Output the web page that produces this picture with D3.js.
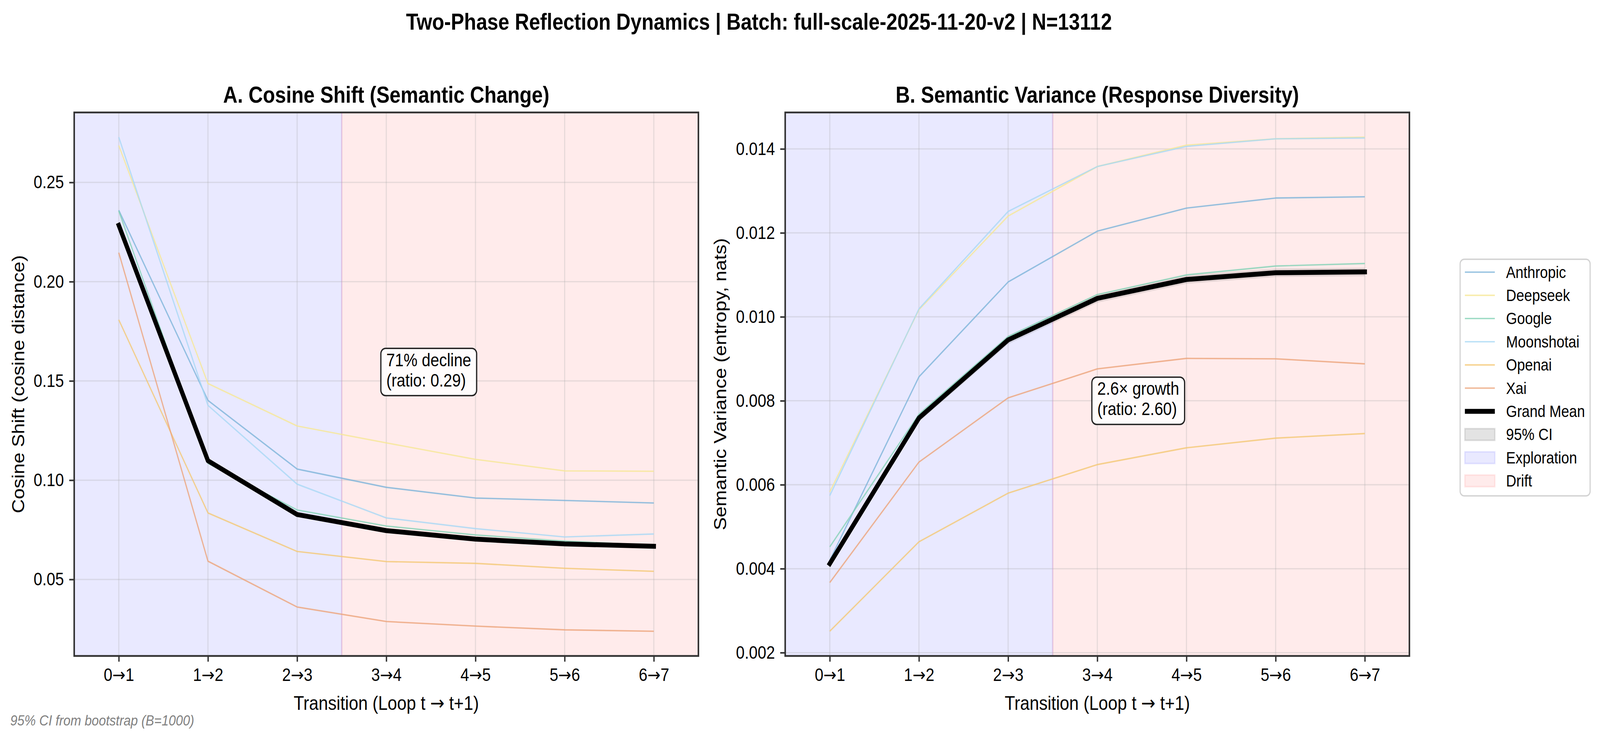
<!DOCTYPE html>
<html>
<head>
<meta charset="utf-8">
<script src="https://cdn.jsdelivr.net/npm/d3@7"></script>
<style>
  html, body { margin: 0; padding: 0; width: 100%; height: 100%; overflow: hidden; background: #fff; }
  #chart { width: 100vw; height: 100vh; }
  svg { display: block; }
  text { font-family: "Liberation Sans", Arial, Helvetica, sans-serif; }
</style>
</head>
<body>
<div id="chart"></div>
<script>
// ---- data ----
const transitions = ["0→1", "1→2", "2→3", "3→4", "4→5", "5→6", "6→7"];
const providers = ["Anthropic", "Deepseek", "Google", "Moonshotai", "Openai", "Xai"];
const providerColors = ["#7db4da", "#f6e796", "#84d2b6", "#a9d8f5", "#f4c874", "#eca47a"];

// A. cosine shift
const cosAnthropic  = [0.2360, 0.1402, 0.1056, 0.0964, 0.0910, 0.0898, 0.0885];
const cosDeepseek   = [0.2686, 0.1487, 0.1273, 0.1188, 0.1105, 0.1047, 0.1045];
const cosGoogle     = [0.2356, 0.1085, 0.0850, 0.0769, 0.0724, 0.0693, 0.0672];
const cosMoonshotai = [0.2728, 0.1377, 0.0980, 0.0810, 0.0756, 0.0714, 0.0729];
const cosOpenai     = [0.1808, 0.0835, 0.0641, 0.0590, 0.0581, 0.0556, 0.0541];
const cosXai        = [0.2146, 0.0592, 0.0361, 0.0288, 0.0265, 0.0246, 0.0239];
const cosMean       = [0.2284, 0.1098, 0.0827, 0.0746, 0.0703, 0.0679, 0.0667];
const cosCiLo       = [0.2268, 0.1089, 0.0820, 0.0740, 0.0697, 0.0673, 0.0661];
const cosCiHi       = [0.2300, 0.1107, 0.0834, 0.0752, 0.0709, 0.0685, 0.0673];
const cosTicks      = [0.05, 0.10, 0.15, 0.20, 0.25];

// B. semantic variance
const varAnthropic  = [0.00420, 0.00857, 0.01083, 0.01204, 0.01259, 0.01283, 0.01286];
const varDeepseek   = [0.00583, 0.01017, 0.01240, 0.01358, 0.01409, 0.01424, 0.01428];
const varGoogle     = [0.00452, 0.00768, 0.00953, 0.01053, 0.01100, 0.01121, 0.01127];
const varMoonshotai = [0.00574, 0.01019, 0.01251, 0.01358, 0.01406, 0.01424, 0.01426];
const varOpenai     = [0.00251, 0.00464, 0.00580, 0.00648, 0.00688, 0.00711, 0.00722];
const varXai        = [0.00367, 0.00654, 0.00807, 0.00876, 0.00901, 0.00900, 0.00888];
const varMean       = [0.00412, 0.00759, 0.00945, 0.01044, 0.01089, 0.01105, 0.01107];
const varCiLo       = [0.00404, 0.00750, 0.00935, 0.01034, 0.01079, 0.01095, 0.01097];
const varCiHi       = [0.00420, 0.00768, 0.00955, 0.01054, 0.01099, 0.01115, 0.01117];
const varTicks      = [0.002, 0.004, 0.006, 0.008, 0.010, 0.012, 0.014];

const explorationRange = [-0.5, 2.5];
const driftRange = [2.5, 6.5];
const legendLabels = providers.concat(["Grand Mean", "95% CI", "Exploration", "Drift"]);

const W = 4701, H = 1885;
const FONT_TICK = 45.8, FONT_LABEL = 50, FONT_TITLE = 58.3;
const ARROW_FONT = '"DejaVu Sans", sans-serif';

// fit the drawing to whatever viewport the page gets
const svg = d3.select("#chart").append("svg")
  .attr("width", "100%").attr("height", "100%")
  .attr("viewBox", `0 0 ${W} ${H}`)
  .attr("preserveAspectRatio", "none");

// write a label, drawing the arrow glyph in DejaVu like matplotlib's fallback
function arrowText(sel, str) {
  sel.text(null);
  str.split("→").forEach((part, i) => {
    if (i > 0) sel.append("tspan").style("font-family", ARROW_FONT).text("→");
    if (part) sel.append("tspan").text(part);
  });
}

svg.append("text")
  .attr("x", 2230).attr("y", 76)
  .attr("text-anchor", "middle")
  .style("font-size", FONT_TITLE + "px").style("font-weight", "bold")
  .text("Two-Phase Reflection Dynamics | Batch: full-scale-2025-11-20-v2 | N=13112");

function drawPanel(p) {
  const width = 1834, height = 1392;
  const g = svg.append("g").attr("transform", `translate(${p.left},${p.top})`);

  const x = d3.scaleLinear().domain([-0.5, 6.5]).range([0, width]);
  const all = p.series.flat().concat(p.mean, p.ciLo, p.ciHi);
  const ext = d3.extent(all);
  const padY = (ext[1] - ext[0]) * 0.05;
  const y = d3.scaleLinear().domain([ext[0] - padY, ext[1] + padY]).range([height, 0]);

  // phase spans
  g.append("rect")
    .attr("x", x(explorationRange[0])).attr("width", x(explorationRange[1]) - x(explorationRange[0]))
    .attr("y", 0).attr("height", height)
    .attr("fill", "blue").attr("fill-opacity", 0.085)
    .attr("stroke", "blue").attr("stroke-opacity", 0.085).attr("stroke-width", 4);
  g.append("rect")
    .attr("x", x(driftRange[0])).attr("width", x(driftRange[1]) - x(driftRange[0]))
    .attr("y", 0).attr("height", height)
    .attr("fill", "red").attr("fill-opacity", 0.08)
    .attr("stroke", "red").attr("stroke-opacity", 0.08).attr("stroke-width", 4);

  // grid
  const grid = g.append("g").attr("class", "grid");
  grid.selectAll("line.gy").data(p.ticks).join("line")
    .attr("x1", 0).attr("x2", width)
    .attr("y1", d => y(d)).attr("y2", d => y(d));
  grid.selectAll("line.gx").data(d3.range(transitions.length)).join("line")
    .attr("y1", 0).attr("y2", height)
    .attr("x1", d => x(d)).attr("x2", d => x(d));
  grid.selectAll("line")
    .attr("stroke", "#b0b0b0").attr("stroke-opacity", 0.3).attr("stroke-width", 3.3);

  // CI band
  g.append("path")
    .datum(d3.range(transitions.length))
    .attr("fill", "#808080").attr("fill-opacity", 0.22)
    .attr("d", d3.area().x(i => x(i)).y0(i => y(p.ciLo[i])).y1(i => y(p.ciHi[i])));

  const line = d3.line().x((d, i) => x(i)).y(d => y(d));

  g.append("g").selectAll("path")
    .data(p.series)
    .join("path")
      .attr("fill", "none")
      .attr("stroke", (d, i) => providerColors[i])
      .attr("stroke-opacity", 0.8)
      .attr("stroke-width", 3.6)
      .attr("stroke-linejoin", "round")
      .attr("d", line);

  g.append("path")
    .datum(p.mean)
    .attr("fill", "none")
    .attr("stroke", "#000")
    .attr("stroke-width", 12.5)
    .attr("stroke-linejoin", "round")
    .attr("stroke-linecap", "square")
    .attr("d", line);

  // axes
  const xAxis = g.append("g")
    .attr("transform", `translate(0,${height})`)
    .call(d3.axisBottom(x).tickValues(d3.range(transitions.length))
      .tickFormat(i => transitions[i]).tickSize(14.6).tickPadding(16.5).tickSizeOuter(0));
  const yAxis = g.append("g")
    .call(d3.axisLeft(y).tickValues(p.ticks).tickFormat(d3.format(p.fmt))
      .tickSize(14.6).tickPadding(15.5).tickSizeOuter(0));
  [xAxis, yAxis].forEach(a => {
    a.select(".domain").remove();
    a.selectAll(".tick line").attr("stroke", "#333").attr("stroke-width", 4);
    a.selectAll(".tick text").attr("fill", "#000")
      .style("font-size", FONT_TICK + "px")
      .style("font-family", '"Liberation Sans", Arial, sans-serif');
  });
  xAxis.selectAll(".tick text").each(function(i) { arrowText(d3.select(this), transitions[i]); });

  // spines
  g.append("rect")
    .attr("width", width).attr("height", height)
    .attr("fill", "none").attr("stroke", "#333").attr("stroke-width", 4.6);

  // titles / labels
  g.append("text")
    .attr("x", width / 2).attr("y", -25)
    .attr("text-anchor", "middle")
    .style("font-size", FONT_TITLE + "px").style("font-weight", "bold")
    .text(p.title);
  g.append("text")
    .attr("x", width / 2).attr("y", 1818 - p.top)
    .attr("text-anchor", "middle")
    .style("font-size", FONT_LABEL + "px")
    .call(arrowText, "Transition (Loop t → t+1)");
  g.append("text")
    .attr("transform", `translate(${p.ylabelX - p.left},${height / 2}) rotate(-90)`)
    .attr("text-anchor", "middle")
    .style("font-size", FONT_LABEL + "px")
    .text(p.ylabel);

  // annotation box
  const cy = y(p.noteY);
  const tx = width * 0.5;
  const note = g.append("g");
  const box = note.append("rect");
  const txt = note.append("text").style("font-size", FONT_TICK + "px");
  txt.append("tspan").attr("x", tx).attr("y", cy - 15).text(p.note[0]);
  txt.append("tspan").attr("x", tx).attr("y", cy + 37).text(p.note[1]);
  const bb = txt.node().getBBox();
  box.attr("x", tx - 16).attr("width", bb.width + 32)
    .attr("y", cy - 60.5).attr("height", 121)
    .attr("rx", 14).attr("ry", 14)
    .attr("fill", "#fff").attr("fill-opacity", 0.85)
    .attr("stroke", "#222").attr("stroke-width", 3.6);
}

drawPanel({
  left: 218, top: 288,
  series: [cosAnthropic, cosDeepseek, cosGoogle, cosMoonshotai, cosOpenai, cosXai],
  mean: cosMean, ciLo: cosCiLo, ciHi: cosCiHi,
  ticks: cosTicks, fmt: ".2f",
  title: "A. Cosine Shift (Semantic Change)",
  ylabel: "Cosine Shift (cosine distance)", ylabelX: 71,
  note: ["71% decline", "(ratio: 0.29)"], noteY: 0.1545
});

drawPanel({
  left: 2307, top: 288,
  series: [varAnthropic, varDeepseek, varGoogle, varMoonshotai, varOpenai, varXai],
  mean: varMean, ciLo: varCiLo, ciHi: varCiHi,
  ticks: varTicks, fmt: ".3f",
  title: "B. Semantic Variance (Response Diversity)",
  ylabel: "Semantic Variance (entropy, nats)", ylabelX: 2134,
  note: ["2.6× growth", "(ratio: 2.60)"], noteY: 0.0080
});

// legend
const lg = svg.append("g").attr("transform", "translate(4290,664)");
lg.append("rect")
  .attr("width", 382).attr("height", 606).attr("rx", 12).attr("ry", 12)
  .attr("fill", "#fff").attr("stroke", "#d2d2d2").attr("stroke-width", 3.3);
const rowY = i => 33 + i * 59.4;
const patchStyles = [
  { fill: "#808080", fo: 0.22, stroke: "#808080", so: 0.22 },
  { fill: "blue", fo: 0.085, stroke: "blue", so: 0.085 },
  { fill: "red", fo: 0.08, stroke: "red", so: 0.08 }
];
legendLabels.forEach((label, i) => {
  const row = lg.append("g").attr("transform", `translate(0,${rowY(i)})`);
  if (i < providers.length) {
    row.append("line").attr("x1", 14).attr("x2", 102)
      .attr("stroke", providerColors[i]).attr("stroke-opacity", 0.8).attr("stroke-width", 3.6);
  } else if (i === providers.length) {
    row.append("line").attr("x1", 14).attr("x2", 102)
      .attr("stroke", "#000").attr("stroke-width", 12.5);
  } else {
    const s = patchStyles[i - providers.length - 1];
    row.append("rect").attr("x", 14).attr("y", -15).attr("width", 88).attr("height", 30)
      .attr("fill", s.fill).attr("fill-opacity", s.fo)
      .attr("stroke", s.stroke).attr("stroke-opacity", s.so).attr("stroke-width", 4);
  }
  row.append("text").attr("x", 135).attr("y", 14.5)
    .style("font-size", "41.7px").text(label);
});

svg.append("text")
  .attr("x", 30).attr("y", 1858)
  .style("font-size", "37.5px").style("font-style", "italic")
  .attr("fill", "#808080")
  .text("95% CI from bootstrap (B=1000)");
</script>
</body>
</html>
